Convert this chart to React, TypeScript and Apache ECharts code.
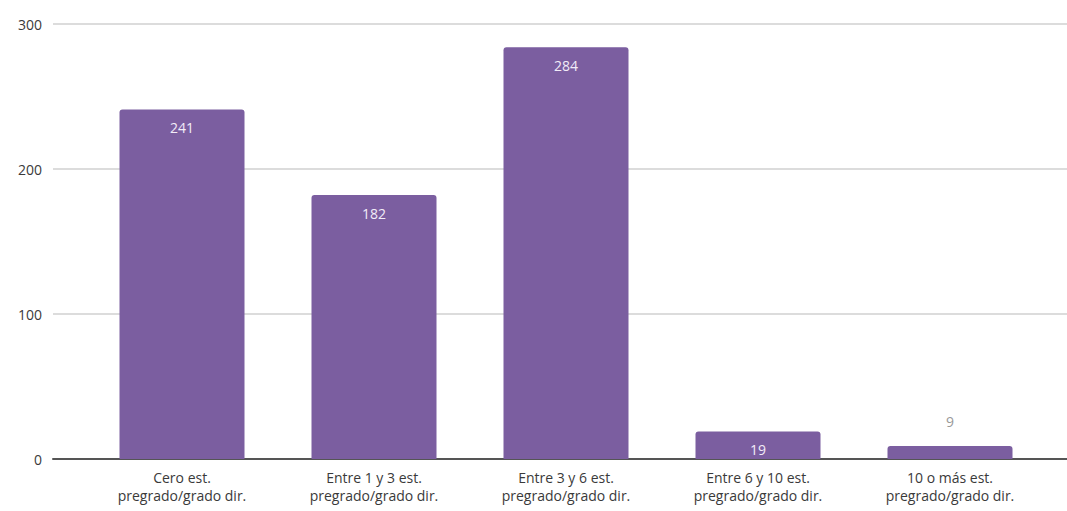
import React, { useEffect, useRef } from "react";
import * as echarts from "echarts";

const categories = [
  "Cero est.\npregrado/grado dir.",
  "Entre 1 y 3 est.\npregrado/grado dir.",
  "Entre 3 y 6 est.\npregrado/grado dir.",
  "Entre 6 y 10 est.\npregrado/grado dir.",
  "10 o más est.\npregrado/grado dir.",
];
const values = [241, 182, 284, 19, 9];
const outsideLabel = [false, false, false, false, true];

const FONT = "'Open Sans', 'Noto Sans', sans-serif";

export default function App() {
  const ref = useRef<HTMLDivElement>(null);
  useEffect(() => {
    if (!ref.current) return;
    const chart = echarts.init(ref.current, undefined, { renderer: "svg" });
    chart.setOption({
      animation: false,
      backgroundColor: "#ffffff",
      grid: [
        { left: 53, right: 0, top: 24, bottom: 52 },
        { left: 86, right: 21, top: 24, bottom: 52 },
      ],
      xAxis: [
        {
          type: "value",
          gridIndex: 0,
          min: 0,
          max: 1,
          axisLine: { show: true, onZero: false, lineStyle: { color: "#555", width: 2 } },
          axisTick: { show: false },
          axisLabel: { show: false },
          splitLine: { show: false },
        },
        {
          type: "category",
          gridIndex: 1,
          data: categories,
          axisLine: { show: false },
          axisTick: { show: false },
          axisLabel: {
            color: "#3a3a3a",
            fontSize: 14,
            fontFamily: FONT,
            lineHeight: 18,
            margin: 9,
            interval: 0,
          },
        },
      ],
      yAxis: [
        {
          type: "value",
          gridIndex: 0,
          min: 0,
          max: 300,
          interval: 100,
          axisLine: { show: false },
          axisTick: { show: false },
          axisLabel: { color: "#3a3a3a", fontSize: 14, fontFamily: FONT, margin: 11 },
          splitLine: { lineStyle: { color: "#dcdcdc", width: 2 } },
        },
        {
          type: "value",
          gridIndex: 1,
          min: 0,
          max: 300,
          show: false,
        },
      ],
      series: [
        {
          type: "bar",
          xAxisIndex: 1,
          yAxisIndex: 1,
          barWidth: 125,
          itemStyle: { color: "#7b5ea0", borderRadius: [3, 3, 0, 0] },
          data: values.map((v, i) => ({
            value: v,
            label: outsideLabel[i]
              ? { show: true, position: "top", distance: 17, color: "#999" }
              : { show: true, position: "insideTop", distance: 11, color: "#f2ecf8" },
          })),
          label: { fontSize: 14, fontFamily: FONT },
        },
      ],
    });
    return () => chart.dispose();
  }, []);
  return (
    <div
      ref={ref}
      style={{ position: "absolute", left: 0, top: 0, width: 1067, height: 511 }}
    />
  );
}
